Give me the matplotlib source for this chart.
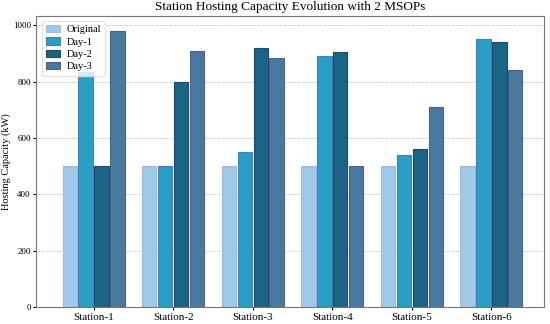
import numpy as np
from matplotlib import pyplot as plt

plt.rcParams['font.family'] = ['Liberation Serif', 'DejaVu Serif']

estacoes = ['Station-1', 'Station-2', 'Station-3', 'Station-4', 'Station-5', 'Station-6']
original = [500, 500, 500, 500, 500, 500]
dia1 = [835, 500, 550, 890, 540, 950]
dia2 = [500, 800, 920, 905, 560, 940]
dia3 = [980, 910, 885, 500, 710, 840]

series = ['Original', 'Day-1', 'Day-2', 'Day-3']
cores = ['#9fc9e8', '#2a9fc3', '#1a6585', '#49799f']
bordas = ['#a9b6e2', '#4a7cc2', '#24456f', '#4e5f93']

fig = plt.figure(figsize=(5.5, 3.24), dpi=100)
ax = fig.add_axes([0.066, 0.052, 0.923, 0.9])

x = np.arange(len(estacoes))
passo = 0.2
for i, valores in enumerate([original, dia1, dia2, dia3]):
    ax.bar(x + i * passo, valores, 0.18, color=cores[i], edgecolor=bordas[i],
           linewidth=0.8, label=series[i])

ax.set_xticks(x + 1.5 * passo)
ax.set_xticklabels(estacoes, fontsize=8)
ax.tick_params(axis='y', labelsize=6.5, pad=1.5, length=2.5)
ax.tick_params(axis='x', pad=1.5, length=2.5)
ax.set_ylabel('Hosting Capacity (kW)', fontsize=7.5, labelpad=1)
ax.set_title('Station Hosting Capacity Evolution with 2 MSOPs', fontsize=9.5, pad=4)
ax.set_xlim(-0.42, 5.96)
ax.set_ylim(0, 1034)
ax.yaxis.grid(True, linestyle='--', color='#cccccc', linewidth=0.6)
ax.set_axisbelow(True)
for s in ax.spines.values():
    s.set_color('#777777')
ax.legend(loc='upper left', fontsize=7.5, frameon=True, edgecolor='#dddddd',
          handlelength=1.4, handletextpad=0.6, borderpad=0.4, labelspacing=0.3)

fig.savefig('out.png', dpi=100)
